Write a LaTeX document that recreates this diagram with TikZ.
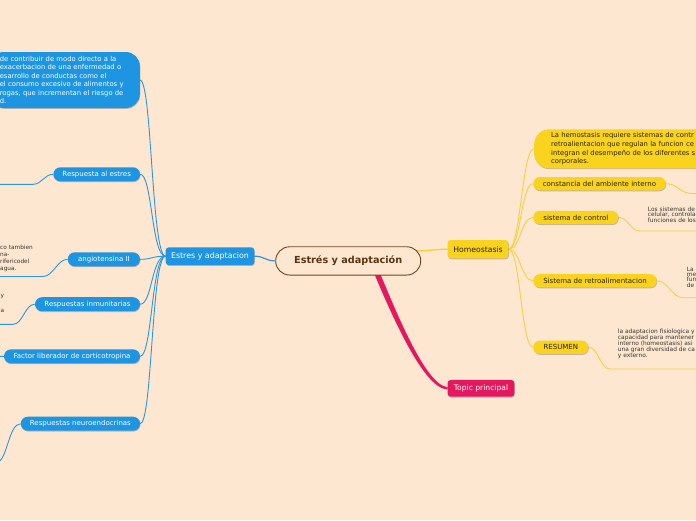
\documentclass[tikz,border=0pt]{standalone}
\usepackage{fontspec}
\setmainfont{DejaVu Sans}
\usetikzlibrary{calc,shadows}
\pgfdeclarelayer{back}
\pgfdeclarelayer{lines}
\pgfsetlayers{back,lines,main}
\definecolor{bgc}{HTML}{FDE7D1}
\definecolor{mmblue}{HTML}{1D95E2}
\definecolor{mmbluel}{HTML}{2A97DE}
\definecolor{mmyel}{HTML}{F9D31E}
\definecolor{mmyell}{HTML}{F7CF3E}
\definecolor{mmpink}{HTML}{E3185E}
\definecolor{mmbrown}{HTML}{6E4320}
\definecolor{mmtext}{HTML}{5A3512}
\definecolor{ytext}{HTML}{2B2100}
\definecolor{ntext}{HTML}{3A3630}
\tikzset{
  sh/.style={drop shadow={shadow xshift=0.5pt,shadow yshift=-0.9pt,opacity=0.22,fill=black}},
  bnode/.style={fill=mmblue,text=white,rounded corners=7pt,inner sep=0pt,minimum height=14pt,font=\fontsize{7}{8.4}\selectfont,sh},
  ynode/.style={fill=mmyel,text=ytext,rounded corners=6.5pt,inner sep=0pt,minimum height=13.3pt,font=\fontsize{7}{8.4}\selectfont,sh},
  notetext/.style={text=ntext,inner sep=0pt,align=left,anchor=west},
  bline/.style={draw=mmbluel,line width=0.9pt},
  yline/.style={draw=mmyell,line width=0.9pt},
}
\begin{document}
\begin{tikzpicture}[x=1pt,y=-1pt]
\useasboundingbox (0,0) rectangle (696,520);
\begin{pgfonlayer}{back}
\fill[bgc] (0,0) rectangle (696,520);
\end{pgfonlayer}
\clip (0,0) rectangle (696,520);

% central
\node[draw=mmbrown,line width=0.9pt,fill=bgc,text=mmtext,rounded corners=14pt,minimum width=145pt,minimum height=28.3pt,inner sep=0pt,font=\bfseries\fontsize{9.7}{11}\selectfont] (central) at (348.2,260.9) {Estrés y adaptación};

% left branch
\node[fill=mmblue,text=white,rounded corners=3pt,minimum width=88.6pt,minimum height=17.7pt,inner sep=0pt,font=\fontsize{7.9}{9}\selectfont,sh] (eya) at (210,256.2) {Estres y adaptacion};

\node[bnode,rounded corners=14pt,anchor=east,minimum height=56pt,text width=130pt,inner xsep=10pt,align=left,font=\fontsize{6.8}{8.4}\selectfont] (bigb) at (140,80) {de contribuir de modo directo a la\\exacerbacion de una enfermedad o\\esarrollo de conductas como el\\el consumo excesivo de alimentos y\\rogas, que incrementan el riesgo de\\d.};
\node[bnode,minimum width=86.7pt] (rae) at (96.7,174.3) {Respuesta al estres};
\node[bnode,minimum width=72.3pt] (ang) at (103.9,259.3) {angiotensina II};
\node[bnode,minimum width=105pt] (inm) at (87.5,304.2) {Respuestas inmunitarias};
\node[bnode,minimum width=136pt] (fac) at (72,356.3) {Factor liberador de corticotropina};
\node[bnode,minimum width=119.3pt] (neu) at (80.4,423.7) {Respuestas neuroendocrinas};

\node[notetext,font={\fontsize{5.8}{6.9}\selectfont\lineskiplimit=-5pt}] (nang) at (0,258.6) {co tambien\\na-\\rifericodel\\agua.};
\node[notetext,font={\fontsize{5.8}{7.5}\selectfont\lineskiplimit=-5pt}] (ninm) at (0.5,303.5) {y\\\mbox{}\\a};

% right branch
\node[fill=mmyel,text=ytext,rounded corners=3pt,minimum width=60.6pt,minimum height=18.3pt,inner sep=0pt,font=\fontsize{7.7}{9}\selectfont,sh] (homeo) at (478,249.2) {Homeostasis};
\node[fill=mmpink,text=white,rounded corners=3pt,minimum width=66.6pt,minimum height=16.7pt,inner sep=0pt,font=\fontsize{7.6}{9}\selectfont,sh] (topic) at (481,388.3) {Topic principal};

\node[ynode,rounded corners=15pt,anchor=west,minimum height=39pt,text width=200pt,inner xsep=17pt,align=left,font=\fontsize{6.8}{8.7}\selectfont] (bigy) at (534,148.8) {La hemostasis requiere sistemas de contr\\retroalientacion que regulan la funcion ce\\integran el desempeño de los diferentes s\\corporales.};
\node[ynode,minimum width=132.4pt] (const) at (599.5,183.7) {constancia del ambiente interno};
\node[ynode,minimum width=85pt] (ctrl) at (575.8,217.5) {sistema de control};
\node[ynode,minimum width=123.4pt] (retro) at (595,280.8) {Sistema de retroalimentacion};
\node[ynode,minimum width=55pt] (res) at (560.8,347.3) {RESUMEN};

\node[notetext,font={\fontsize{5.9}{5.5}\selectfont\lineskiplimit=-5pt}] (nctrl) at (647.7,214.7) {Los sistemas de\\celular, controla\\funciones de los};
\node[notetext,font={\fontsize{5.9}{5.4}\selectfont\lineskiplimit=-5pt}] (nretro) at (686.7,277) {La\\me\\fun\\de};
\node[notetext,font={\fontsize{5.9}{6}\selectfont\lineskiplimit=-5pt}] (nres) at (617.7,344.3) {la adaptacion fisiologica y\\capacidad para mantener\\interno (homeostasis) asi\\una gran diversidad de ca\\y externo.};

\begin{pgfonlayer}{lines}
\foreach \nn in {bigb,rae,ang,inm,fac,neu}
  \draw[bline] (\nn.east) .. controls +(12,0) and +(-14,0) .. (eya.west);
\foreach \nn in {bigy,const,ctrl,retro,res}
  \draw[yline] (homeo.east) .. controls +(12,0) and +(-12,0) .. (\nn.west);
\draw[bline,line width=1.2pt] (central.west) .. controls +(-10,0) and +(10,0) .. (eya.east);
\draw[yline,line width=1.4pt] ($(central.east)+(-4,-10)$) .. controls +(12,0) and +(-12,0) .. (homeo.west);
% pink tapered
\fill[mmpink] ($(central.south)+(25.5,-3)$) .. controls +(17,40) and +(-24,0) .. ($(topic.west)+(0,1.1)$)
   -- ($(topic.west)+(0,-1.1)$) .. controls +(-22,-2) and +(16,38) .. ($(central.south)+(31.5,-3)$) -- cycle;
% underline connectors right
\coordinate (uconst) at (692,193.5);
\draw[yline] (const.east) .. controls +(12,0) and +(-12,0) .. (uconst) -- +(30,0);
\coordinate (uctrl) at (640,231);
\draw[yline] (ctrl.east) .. controls +(10,0) and +(-10,0) .. (uctrl) -- +(80,0);
\coordinate (uretro) at (683,297.7);
\draw[yline] (retro.east) .. controls +(11,0) and +(-11,0) .. (uretro) -- +(40,0);
\coordinate (ures) at (610,369);
\draw[yline] (res.east) .. controls +(10,0) and +(-10,0) .. (ures) -- +(110,0);
% underline connectors left
\coordinate (urae) at (33,184.3);
\draw[bline] (rae.west) .. controls +(-9,0) and +(9,0) .. (urae) -- +(-40,0);
\coordinate (uang) at (43,276.5);
\draw[bline] (ang.west) .. controls +(-10,0) and +(10,0) .. (uang) -- +(-50,0);
\coordinate (uinm) at (13,324.3);
\draw[bline] (inm.west) .. controls +(-10,0) and +(10,0) .. (uinm) -- +(-20,0);
\coordinate (ufac) at (-10,357);
\draw[bline] (fac.west) .. controls +(-5,0) and +(5,0) .. (ufac);
\coordinate (uneu) at (-3,462);
\draw[bline] (neu.west) .. controls +(-12,0) and +(10,0) .. (uneu);
\end{pgfonlayer}
\end{tikzpicture}
\end{document}
